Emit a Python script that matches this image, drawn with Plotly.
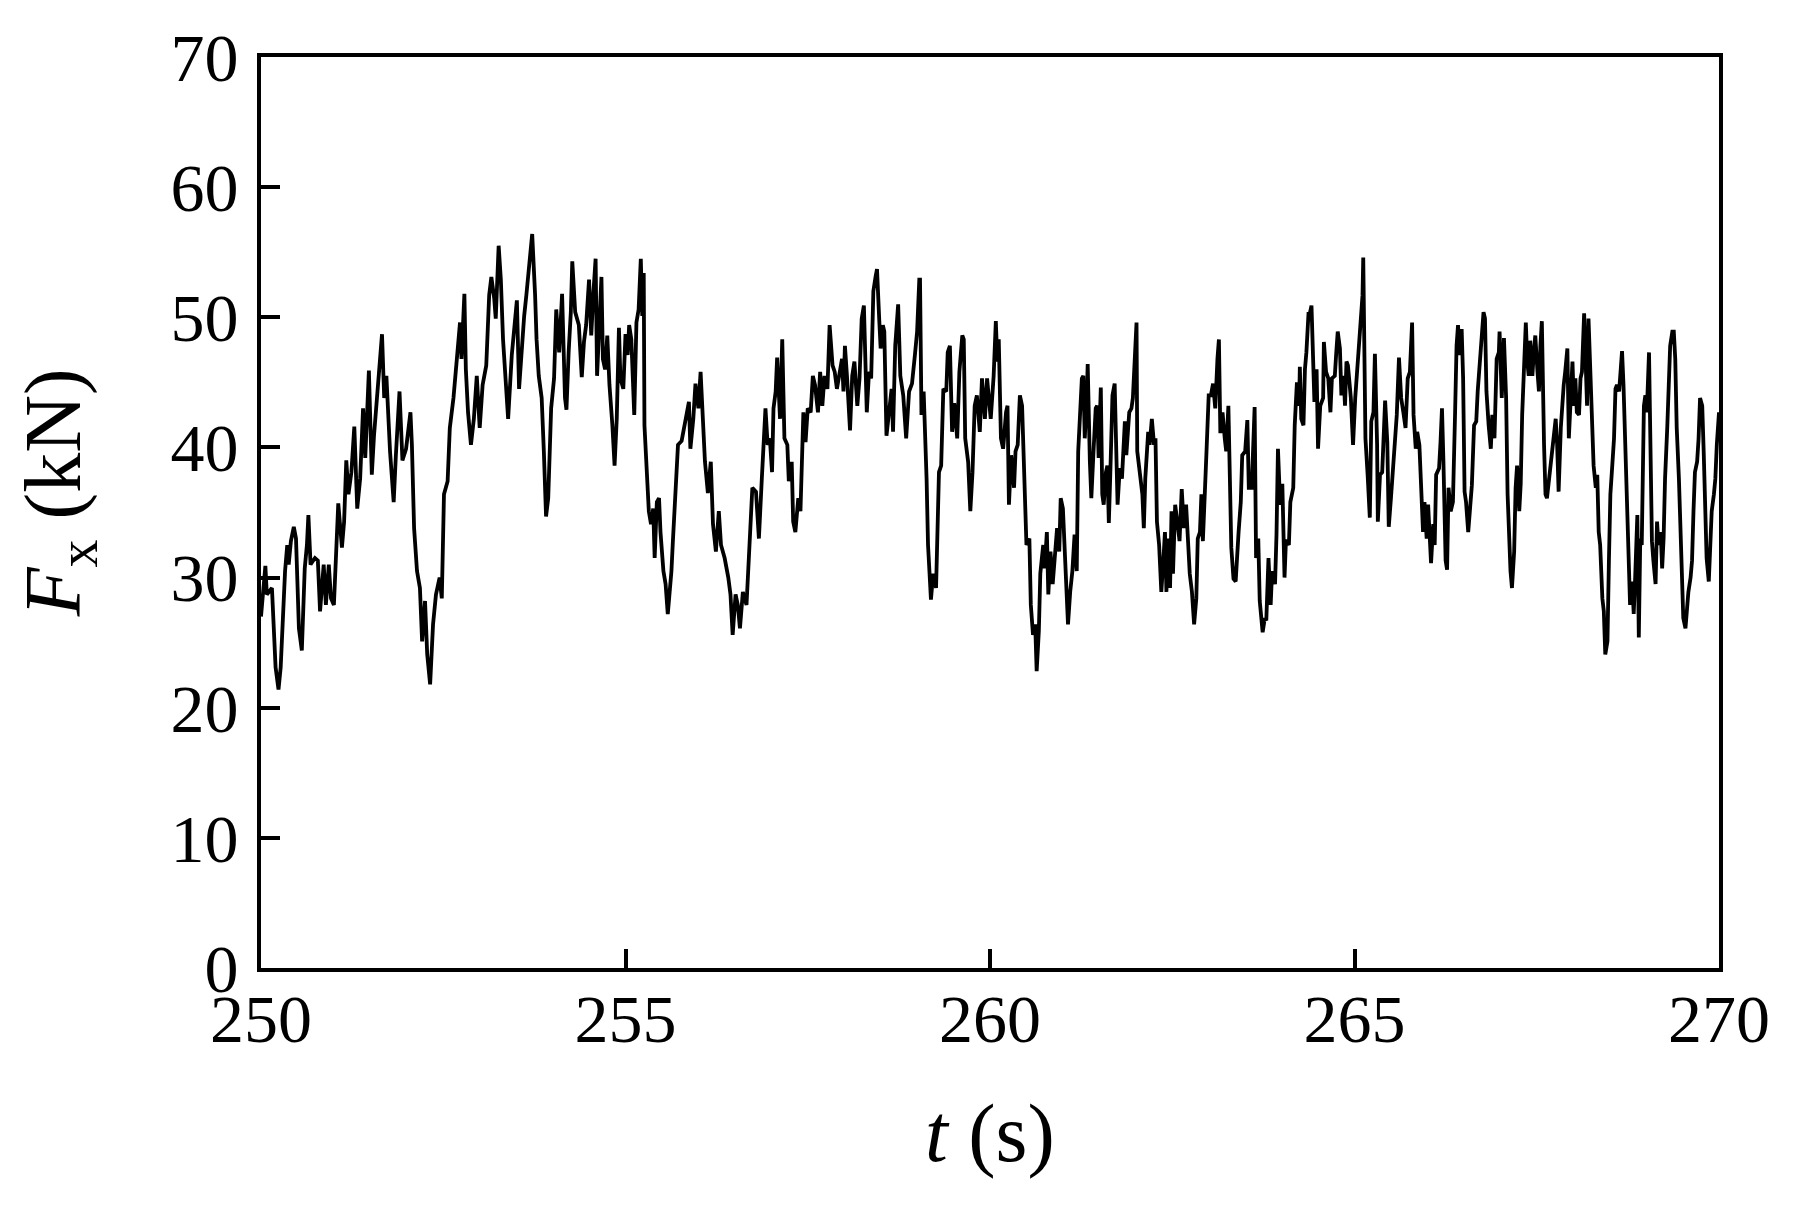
import plotly.graph_objects as go

# Zaman serisi, parça parça okunmuş değerler (t: s, Fx: kN)
t_a = [
    250.00, 250.06, 250.08, 250.15, 250.20, 250.24, 250.27, 250.30, 250.33, 250.36,
    250.38, 250.41, 250.45, 250.48, 250.50, 250.52, 250.56, 250.60, 250.63, 250.65,
    250.68, 250.74, 250.78, 250.81, 250.86, 250.89, 250.93, 250.96, 251.00, 251.04,
    251.06, 251.11, 251.14, 251.17, 251.20, 251.24, 251.28, 251.32, 251.36, 251.40,
    251.43, 251.48, 251.52, 251.55, 251.60, 251.66, 251.69, 251.72, 251.77, 251.82,
    251.85, 251.90, 251.94, 251.99, 252.05, 252.07, 252.10, 252.14, 252.18, 252.21,
    252.25, 252.28, 252.32, 252.36, 252.40, 252.45, 252.48, 252.51, 252.56, 252.59,
    252.64, 252.68, 252.73, 252.75, 252.79, 252.81, 252.84, 252.88, 252.92, 252.96,
    253.00, 253.04, 253.09, 253.13, 253.16, 253.20, 253.22, 253.26, 253.29,
]
fx_a = [
    27.0, 30.9, 28.7, 29.2, 23.1, 21.4, 23.1, 27.4, 30.5, 32.5,
    31.0, 32.8, 33.9, 33.0, 30.0, 26.1, 24.4, 30.7, 32.5, 34.8,
    31.0, 31.5, 31.3, 27.4, 31.0, 27.9, 31.0, 28.4, 27.9, 32.3,
    35.7, 32.3, 34.3, 39.0, 36.4, 38.1, 41.6, 35.3, 37.6, 43.0,
    39.2, 45.9, 37.9, 40.9, 44.3, 48.7, 43.8, 45.5, 39.7, 35.8,
    39.4, 44.3, 39.0, 39.9, 42.7, 40.2, 33.8, 30.5, 29.2, 25.1,
    28.2, 24.1, 21.8, 26.4, 28.7, 30.0, 28.4, 36.4, 37.4, 41.5,
    43.8, 46.6, 49.6, 46.8, 51.8, 46.0, 42.7, 40.2, 42.2, 45.5,
    41.5, 44.8, 46.3, 51.7, 53.1, 51.4, 49.9, 55.5, 52.9,
]

t_b = [
    253.32, 253.39, 253.44, 253.51, 253.54, 253.57, 253.61, 253.64, 253.69, 253.72,
    253.76, 253.78, 253.81, 253.85, 253.88, 253.91, 253.94, 253.98, 254.02, 254.05,
    254.09, 254.13, 254.17, 254.19, 254.22, 254.25, 254.27, 254.31, 254.36, 254.40,
    254.43, 254.46, 254.50, 254.53, 254.56, 254.59, 254.61, 254.65, 254.67, 254.69,
    254.72, 254.75, 254.78, 254.82, 254.85, 254.88, 254.91, 254.93, 254.97, 255.00,
    255.03, 255.05, 255.08, 255.12, 255.15, 255.18, 255.21, 255.23, 255.25, 255.26,
    255.29, 255.32, 255.35, 255.38, 255.40, 255.43, 255.46, 255.48, 255.52, 255.55,
    255.58, 255.63, 255.65, 255.68, 255.72, 255.77, 255.80, 255.83, 255.87, 255.89,
    255.93, 255.96, 256.00, 256.03, 256.06, 256.09, 256.13, 256.17, 256.20, 256.24,
    256.28, 256.31, 256.36, 256.41, 256.44, 256.47, 256.51, 256.54, 256.57, 256.61,
]
fx_b = [
    48.3, 42.2, 47.1, 51.3, 44.5, 47.1, 50.1, 51.7, 54.5, 56.4,
    51.7, 48.3, 45.5, 43.8, 39.7, 34.7, 36.1, 43.0, 45.3, 50.6,
    47.3, 51.8, 43.8, 42.9, 47.3, 50.4, 54.3, 50.4, 49.4, 45.4,
    48.1, 49.4, 52.9, 48.6, 51.9, 54.5, 45.5, 50.6, 53.1, 46.8,
    46.0, 48.6, 44.8, 41.7, 38.6, 42.2, 49.2, 45.3, 44.5, 48.7,
    47.1, 49.4, 48.3, 42.5, 49.6, 50.6, 54.5, 50.1, 53.4, 41.7,
    38.6, 35.1, 34.1, 35.3, 31.5, 35.8, 36.1, 33.5, 30.5, 29.5,
    27.2, 30.5, 32.8, 36.4, 40.2, 40.5, 41.5, 42.2, 43.5, 39.9,
    42.2, 44.9, 43.0, 45.8, 41.7, 38.9, 36.5, 38.9, 34.1, 32.0,
    35.1, 32.5, 31.5, 30.0, 28.7, 25.6, 28.7, 27.9, 26.1, 28.9,
]

t_c = [
    256.66, 256.68, 256.71, 256.74, 256.79, 256.83, 256.87, 256.90, 256.92, 256.95,
    256.98, 257.01, 257.03, 257.06, 257.08, 257.12, 257.15, 257.18, 257.22, 257.24,
    257.28, 257.30, 257.33, 257.37, 257.40, 257.44, 257.47, 257.50, 257.54, 257.57,
    257.60, 257.64, 257.67, 257.70, 257.73, 257.77, 257.80, 257.84, 257.87, 257.90,
    257.94, 257.97, 257.99, 258.01, 258.04, 258.08, 258.11, 258.14, 258.18, 258.21,
    258.24, 258.27, 258.31, 258.34, 258.37, 258.40, 258.43, 258.45, 258.48, 258.50,
    258.53, 258.55, 258.58, 258.61, 258.65, 258.67, 258.70, 258.74, 258.77, 258.81,
    258.85, 258.89, 258.93, 258.97, 259.00, 259.03, 259.04, 259.06, 259.09, 259.13,
    259.15, 259.19, 259.22, 259.26, 259.30, 259.33, 259.36, 259.40, 259.42, 259.45,
    259.48, 259.51, 259.55, 259.58, 259.62, 259.64, 259.66, 259.70, 259.73, 259.76,
    259.79, 259.82, 259.86, 259.89, 259.93, 259.96,
]
fx_c = [
    27.9, 30.5, 33.8, 36.9, 36.6, 33.0, 37.6, 40.4, 43.0, 40.2,
    40.7, 38.1, 43.0, 44.3, 46.9, 42.2, 48.3, 40.7, 40.2, 37.4,
    38.9, 34.3, 33.5, 36.1, 35.1, 42.7, 40.4, 43.0, 42.7, 45.5,
    44.8, 42.7, 45.8, 43.2, 45.5, 44.5, 49.4, 46.3, 45.8, 44.5,
    45.8, 46.8, 44.3, 47.8, 45.3, 41.3, 45.5, 46.6, 43.2, 45.3,
    49.9, 50.9, 42.7, 45.8, 45.3, 52.0, 53.1, 53.7, 49.9, 47.6,
    49.4, 48.9, 40.9, 42.7, 44.5, 41.2, 47.8, 51.0, 45.5, 44.0,
    40.7, 44.3, 44.9, 47.1, 48.9, 52.9, 52.9, 42.5, 44.3, 37.6,
    32.5, 28.3, 30.3, 29.2, 38.1, 38.6, 44.5, 44.3, 47.3, 47.8,
    41.2, 43.4, 40.7, 45.8, 48.6, 48.3, 40.7, 38.9, 35.1, 38.1,
    43.2, 44.0, 41.2, 45.3, 42.2, 45.3,
]

t_d = [
    260.01, 260.05, 260.08, 260.10, 260.12, 260.15, 260.18, 260.22, 260.24, 260.26,
    260.29, 260.33, 260.35, 260.38, 260.41, 260.44, 260.47, 260.50, 260.54, 260.56,
    260.59, 260.62, 260.64, 260.67, 260.69, 260.73, 260.75, 260.78, 260.80, 260.83,
    260.86, 260.89, 260.92, 260.95, 260.97, 261.00, 261.02, 261.05, 261.07, 261.10,
    261.13, 261.16, 261.19, 261.21, 261.23, 261.26, 261.28, 261.30, 261.33, 261.34,
    261.37, 261.39, 261.42, 261.45, 261.47, 261.49, 261.52, 261.54, 261.56, 261.59,
    261.61, 261.63, 261.65, 261.68, 261.71, 261.73, 261.75, 261.78, 261.81, 261.85,
    261.87, 261.91, 261.94, 261.96, 261.98, 262.01, 262.02, 262.05, 262.09, 262.11,
    262.13, 262.17, 262.19, 262.22, 262.25, 262.27, 262.29, 262.32, 262.35, 262.38,
    262.40, 262.42, 262.44, 262.47, 262.49, 262.51, 262.54, 262.58, 262.60, 262.63,
    262.66, 262.69, 262.72, 262.74, 262.77, 262.80, 262.83, 262.85, 262.88, 262.90,
    262.92, 262.94, 262.97, 263.00, 263.03, 263.06, 263.09, 263.12, 263.14, 263.16,
    263.19, 263.22, 263.24, 263.27, 263.29, 263.31, 263.34,
]
fx_d = [
    42.2, 45.5, 49.7, 46.6, 48.3, 40.7, 39.9, 42.7, 43.2, 35.6,
    39.4, 36.9, 39.7, 40.2, 44.0, 43.2, 36.6, 32.5, 33.0, 27.9,
    25.6, 26.4, 22.8, 25.9, 30.3, 32.5, 30.7, 33.5, 28.7, 32.0,
    29.5, 31.5, 33.8, 32.0, 36.1, 35.3, 32.5, 28.7, 26.4, 28.9,
    30.5, 33.3, 30.5, 39.7, 41.7, 45.3, 45.5, 40.7, 44.3, 46.4,
    38.9, 36.1, 39.7, 43.0, 43.2, 39.2, 44.6, 36.4, 35.6, 38.1,
    38.6, 34.2, 37.9, 44.0, 44.9, 39.9, 35.6, 38.4, 37.6, 42.0,
    39.4, 42.7, 43.0, 43.8, 46.8, 49.6, 39.7, 38.1, 36.4, 33.8,
    37.6, 41.2, 40.2, 42.2, 40.2, 40.7, 34.3, 32.5, 28.9, 31.5,
    33.5, 28.9, 33.0, 29.2, 35.1, 30.3, 35.6, 33.8, 32.8, 36.8,
    33.8, 35.6, 33.0, 30.3, 28.9, 26.4, 28.4, 33.0, 33.5, 36.4,
    32.8, 36.4, 39.7, 44.0, 44.0, 44.9, 43.0, 46.8, 48.3, 41.1,
    42.7, 40.7, 39.7, 43.2, 38.4, 32.3, 29.9,
]

t_e = [
    263.37, 263.41, 263.44, 263.46, 263.50, 263.53, 263.55, 263.59, 263.61, 263.63,
    263.65, 263.68, 263.70, 263.74, 263.77, 263.79, 263.82, 263.85, 263.87, 263.91,
    263.93, 263.95, 263.98, 264.01, 264.04, 264.06, 264.10, 264.12, 264.16, 264.18,
    264.21, 264.24, 264.25, 264.27, 264.30, 264.32, 264.34, 264.37, 264.38, 264.41,
    264.43, 264.45, 264.48, 264.50, 264.53, 264.57, 264.58, 264.61, 264.64, 264.67,
    264.69, 264.73, 264.75, 264.77, 264.80, 264.82, 264.85, 264.87, 264.89, 264.91,
    264.95, 264.98, 265.01, 265.03, 265.05, 265.08, 265.11, 265.12, 265.15, 265.18,
    265.21, 265.23, 265.26, 265.28, 265.31, 265.32, 265.35, 265.38, 265.42, 265.45,
    265.47, 265.50, 265.53, 265.55, 265.58, 265.61, 265.64, 265.67, 265.70, 265.73,
    265.76, 265.79, 265.81, 265.84, 265.86, 265.89, 265.91, 265.94, 265.96, 265.99,
    266.01, 266.03, 266.05, 266.08, 266.10, 266.12, 266.16, 266.18, 266.20, 266.22,
    266.25, 266.27, 266.29, 266.32, 266.35, 266.38, 266.40, 266.42, 266.44, 266.47,
    266.49, 266.51, 266.53, 266.56, 266.59, 266.61, 266.64, 266.67, 266.69,
]
fx_e = [
    29.7, 33.5, 35.8, 39.4, 39.7, 42.1, 36.9, 36.9, 40.2, 43.1,
    31.5, 33.0, 28.2, 25.8, 26.9, 26.7, 31.5, 27.9, 30.5, 29.5,
    33.3, 39.9, 35.6, 37.2, 30.0, 32.9, 32.5, 35.8, 36.9, 41.7,
    45.0, 43.2, 46.2, 42.2, 41.7, 46.0, 47.3, 50.4, 50.1, 50.9,
    46.6, 43.5, 46.0, 39.9, 43.2, 43.8, 48.1, 45.8, 45.3, 42.7,
    45.3, 45.5, 47.3, 48.9, 47.6, 44.0, 45.5, 43.2, 46.6, 46.3,
    43.8, 40.2, 43.8, 45.5, 47.6, 49.4, 51.7, 54.6, 40.7, 37.9,
    34.6, 42.0, 42.7, 47.2, 40.2, 34.3, 37.9, 38.1, 43.6, 40.4,
    33.9, 36.1, 38.6, 40.2, 42.5, 46.9, 43.8, 42.7, 41.5, 45.3,
    45.8, 49.6, 42.5, 39.9, 41.2, 40.2, 37.6, 33.5, 35.8, 33.0,
    35.6, 32.5, 31.1, 34.1, 32.5, 37.9, 38.4, 40.4, 43.0, 38.9,
    31.3, 30.6, 36.9, 35.1, 35.8, 42.7, 47.8, 49.4, 47.1, 49.1,
    45.3, 36.6, 35.8, 33.5, 35.6, 37.1, 41.7, 42.0, 44.3,
]

t_f = [
    266.73, 266.77, 266.79, 266.81, 266.84, 266.87, 266.89, 266.92, 266.95, 266.98,
    266.99, 267.02, 267.05, 267.08, 267.10, 267.12, 267.14, 267.16, 267.19, 267.21,
    267.23, 267.26, 267.28, 267.30, 267.32, 267.35, 267.37, 267.39, 267.41, 267.44,
    267.46, 267.48, 267.51, 267.53, 267.55, 267.57, 267.60, 267.62, 267.64, 267.67,
    267.70, 267.73, 267.76, 267.78, 267.80, 267.83, 267.85, 267.87, 267.89, 267.92,
    267.94, 267.96, 267.99, 268.01, 268.03, 268.05, 268.08, 268.10, 268.12, 268.15,
    268.17, 268.19, 268.21, 268.24, 268.26, 268.28, 268.31, 268.33, 268.35, 268.37,
    268.40, 268.42, 268.44, 268.47, 268.49, 268.51, 268.53, 268.56, 268.58, 268.60,
    268.63, 268.65, 268.67, 268.69, 268.72, 268.74, 268.76, 268.78, 268.81, 268.83,
    268.85, 268.88, 268.90, 268.92, 268.94, 268.97, 268.99, 269.01, 269.04, 269.06,
    269.08, 269.10, 269.13, 269.15, 269.17, 269.20, 269.22, 269.24, 269.26, 269.29,
    269.31, 269.33, 269.36, 269.38, 269.40, 269.42, 269.45, 269.47, 269.49, 269.51,
    269.54, 269.56, 269.58, 269.61, 269.63, 269.65, 269.67, 269.70, 269.72, 269.74,
    269.77, 269.79, 269.81, 269.83, 269.86, 269.88, 269.90, 269.93, 269.95, 269.97,
    270.00,
]
fx_f = [
    47.8, 50.4, 49.9, 44.3, 41.7, 39.9, 42.5, 40.7, 46.8, 47.3,
    48.9, 43.8, 48.4, 43.8, 36.4, 32.5, 30.5, 29.2, 32.0, 36.9,
    38.6, 35.1, 37.2, 42.5, 46.0, 49.6, 46.6, 45.5, 48.2, 45.5,
    47.3, 48.6, 45.8, 44.3, 47.8, 49.7, 40.2, 36.4, 36.1, 37.6,
    38.9, 40.2, 42.2, 40.2, 36.6, 41.5, 43.8, 44.8, 45.8, 47.6,
    40.7, 43.8, 46.6, 43.2, 45.3, 42.7, 42.5, 45.3, 45.8, 50.3,
    47.6, 43.2, 49.9, 45.3, 40.7, 38.6, 36.9, 37.9, 33.5, 32.5,
    28.4, 27.4, 24.1, 25.1, 31.3, 36.4, 38.1, 40.7, 44.5, 44.8,
    44.3, 46.3, 47.4, 44.8, 38.9, 36.4, 30.0, 27.9, 29.7, 27.2,
    30.0, 34.8, 25.4, 33.0, 32.5, 43.2, 44.0, 42.7, 47.3, 41.5,
    32.8, 31.3, 29.5, 34.3, 32.5, 33.5, 30.7, 33.0, 37.6, 41.5,
    44.5, 47.8, 48.9, 48.9, 46.8, 41.5, 37.6, 33.5, 28.9, 26.9,
    26.1, 27.9, 28.9, 30.0, 31.3, 35.1, 38.1, 38.9, 40.7, 43.8,
    43.2, 39.7, 35.8, 31.5, 29.7, 32.5, 35.1, 36.4, 37.6, 40.2,
    42.7,
]

x_ticks = [250, 255, 260, 265, 270]
y_ticks = [0, 10, 20, 30, 40, 50, 60, 70]

t_values = t_a + t_b + t_c + t_d + t_e + t_f
fx_values = fx_a + fx_b + fx_c + fx_d + fx_e + fx_f

SERIF = "Liberation Serif"

fig = go.Figure()
fig.add_trace(
    go.Scatter(
        x=t_values,
        y=fx_values,
        mode="lines",
        line=dict(color="black", width=3.8),
    )
)

axis_style = dict(
    showline=True,
    linecolor="black",
    linewidth=4,
    mirror=True,
    ticks="inside",
    ticklen=19,
    tickwidth=3.5,
    tickcolor="black",
    showgrid=False,
    zeroline=False,
    tickfont=dict(family=SERIF, size=68, color="black"),
)

fig.update_xaxes(range=[250, 270], tickvals=x_ticks, ticklabelstandoff=-12, **axis_style)
fig.update_yaxes(range=[0, 70], tickvals=y_ticks, ticklabelstandoff=5, **axis_style)

# Eksen başlıkları: konumu referansa göre ayarlanmış notlar
fig.add_annotation(
    text="<i>t</i> (s)",
    xref="paper", yref="paper",
    x=0.5, y=-0.182,
    xanchor="center", yanchor="middle",
    showarrow=False,
    font=dict(family=SERIF, size=82, color="black"),
)
fig.add_annotation(
    text="<i>F</i><sub>x</sub> (kN)",
    xref="paper", yref="paper",
    x=-0.138, y=0.522,
    xanchor="center", yanchor="middle",
    textangle=-90,
    showarrow=False,
    font=dict(family=SERIF, size=80, color="black"),
)

fig.update_layout(
    width=1780,
    height=1189,
    margin=dict(l=253, r=69, t=45, b=229),
    plot_bgcolor="white",
    paper_bgcolor="white",
    showlegend=False,
    font=dict(family=SERIF, color="black"),
)

fig.write_html("out.html")
